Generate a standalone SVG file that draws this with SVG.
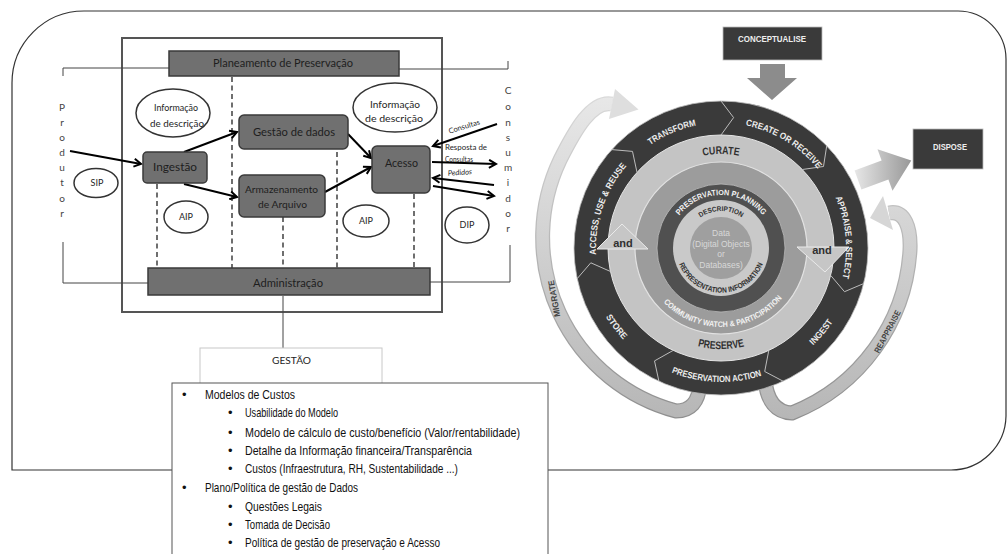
<svg xmlns="http://www.w3.org/2000/svg" width="1008" height="554" viewBox="0 0 1008 554">
<style>
.lbl{font-family:Lato,"Open Sans","Liberation Sans",sans-serif;fill:#1e1e1e}
.box{fill:#707070;stroke:#3a3a3a;stroke-width:1.5}
.ell{fill:#fff;stroke:#333;stroke-width:1.5}
.arr{stroke:#000;stroke-width:2;fill:none;marker-end:url(#ah)}
.dash{stroke:#222;stroke-width:1.3;stroke-dasharray:5 3.5;fill:none}
.thin{stroke:#444;stroke-width:1;fill:none}
.ring{font-family:"Liberation Sans",Arial,sans-serif;font-weight:bold}
.wl{fill:#ececec;font-size:9px}
.dk{fill:#303030}
.bl{font-family:"Liberation Sans",Arial,sans-serif;font-size:13px;fill:#111}
.vl{font-family:Lato,"Liberation Sans",sans-serif;font-size:10px;fill:#444;text-anchor:middle}
</style>
<defs>
<marker id="ah" viewBox="0 0 10 10" refX="8" refY="5" markerWidth="5" markerHeight="5" orient="auto" markerUnits="strokeWidth"><path d="M1,1 L8,5 L1,9" fill="none" stroke="#000" stroke-width="2"/></marker>
<linearGradient id="gb" x1="0" y1="95" x2="0" y2="420" gradientUnits="userSpaceOnUse"><stop offset="0" stop-color="#e8e8e8"/><stop offset="1" stop-color="#b6b6b6"/></linearGradient>
<linearGradient id="gbo" x1="0" y1="95" x2="0" y2="420" gradientUnits="userSpaceOnUse"><stop offset="0" stop-color="#dadada"/><stop offset="1" stop-color="#8e8e8e"/></linearGradient>
<linearGradient id="gd" x1="855" y1="0" x2="912" y2="0" gradientUnits="userSpaceOnUse"><stop offset="0" stop-color="#e6e6e6"/><stop offset="1" stop-color="#979797"/></linearGradient>
<path id="p_tr" d="M 621.2 172.8 A 125 125 0 0 1 736.2 123.9"/>
<path id="p_cr" d="M 712.3 123.3 A 125 125 0 0 1 835.2 197.2"/>
<path id="p_as" d="M 816.8 167.7 A 125 125 0 0 1 829.3 310.5"/>
<path id="p_au" d="M 600.8 282.5 A 125 125 0 0 1 647.5 146.9"/>
<path id="p_in" d="M 777.6 369.4 A 134 134 0 0 0 850.4 282.7"/>
<path id="p_pa" d="M 640.4 355.0 A 134 134 0 0 0 794.0 360.4"/>
<path id="p_st" d="M 589.9 275.9 A 134 134 0 0 0 658.1 366.3"/>
<path id="p_cu" d="M 674.0 166.6 A 94 94 0 0 1 768.0 166.6"/>
<path id="p_pr" d="M 670.5 335.5 A 101 101 0 0 0 771.5 335.5"/>
<path id="p_pp" d="M 671.2 229.9 A 53 53 0 0 1 770.8 229.9"/>
<path id="p_de" d="M 689 229.5 A 37 37 0 0 1 753 229.5"/>
<path id="p_ri" d="M 676.2 251.9 A 45 45 0 0 0 765.8 251.9"/>
<path id="p_cw" d="M 654.0 289.9 A 79 79 0 0 0 790.7 285.1"/>
</defs>

<rect width="1008" height="554" fill="#fff"/>

<g id="outer-frame">
<path d="M12 470 L12 83 A72 72 0 0 1 84 11 L958 11 A48 48 0 0 1 1006 59 L1006 416 A55 55 0 0 1 951 470 Z" fill="none" stroke="#333" stroke-width="1.2"/>
</g>

<g id="oais-frame"><rect x="122" y="38" width="320" height="274" fill="none" stroke="#555" stroke-width="2"/></g>

<g id="connectors">
<polyline class="thin" points="63,76 63,68 169,68"/>
<polyline class="thin" points="63,242 63,283 148,283"/>
<polyline class="thin" points="399,69 508,69 508,61"/>
<polyline class="thin" points="510,245 510,282 430,282"/>
<line class="thin" x1="283" y1="296" x2="283" y2="348"/>
<line class="dash" x1="232" y1="77" x2="232" y2="268"/>
<line class="dash" x1="157" y1="184" x2="157" y2="268"/>
<line class="dash" x1="283" y1="217" x2="283" y2="268"/>
<line class="dash" x1="337" y1="152" x2="337" y2="268"/>
<line class="dash" x1="414" y1="194" x2="414" y2="268"/>
<line class="arr" x1="70" y1="151" x2="141" y2="164"/>
<line class="arr" x1="184" y1="152" x2="237" y2="132"/>
<line class="arr" x1="184" y1="184" x2="237" y2="197"/>
<line class="arr" x1="348" y1="134" x2="371" y2="158"/>
<line class="arr" x1="325" y1="192" x2="371" y2="167"/>
<line class="arr" x1="497" y1="124" x2="433" y2="146"/>
<line class="arr" x1="432" y1="162" x2="496" y2="164"/>
<line class="arr" x1="494" y1="185" x2="433" y2="178"/>
<line class="arr" x1="433" y1="186" x2="494" y2="196"/>
<text class="lbl" font-size="7.5" text-anchor="middle" transform="translate(465,129) rotate(-17)">Consultas</text>
<text class="lbl" font-size="7" x="466" y="150" text-anchor="middle" textLength="42" lengthAdjust="spacingAndGlyphs">Resposta de</text>
<text class="lbl" font-size="7" x="459" y="162" text-anchor="middle" textLength="28" lengthAdjust="spacingAndGlyphs">Consultas</text>
<text class="lbl" font-size="7.5" font-style="italic" text-anchor="middle" transform="translate(460,175) rotate(-4)">Pedidos</text>
</g>

<g id="planeamento"><rect class="box" x="169" y="51" width="230" height="25"/><text class="lbl" font-size="11" x="283" y="67" text-anchor="middle" textLength="140" lengthAdjust="spacingAndGlyphs">Planeamento de Preservação</text></g>
<g id="administracao"><rect class="box" x="148" y="268" width="282" height="27"/><text class="lbl" font-size="11" x="288" y="287" text-anchor="middle" textLength="70" lengthAdjust="spacingAndGlyphs">Administração</text></g>
<g id="ingestao"><rect class="box" x="143" y="152" width="64" height="31" rx="4"/><text class="lbl" font-size="11" x="175" y="171" text-anchor="middle" textLength="44" lengthAdjust="spacingAndGlyphs">Ingestão</text></g>
<g id="gestao-dados"><rect class="box" x="239" y="115" width="109" height="34" rx="5"/><text class="lbl" font-size="11" x="294" y="136" text-anchor="middle" textLength="82" lengthAdjust="spacingAndGlyphs">Gestão de dados</text></g>
<g id="armazenamento"><rect class="box" x="239" y="175" width="86" height="42" rx="5"/><text class="lbl" font-size="10" x="281.5" y="193" text-anchor="middle" textLength="73" lengthAdjust="spacingAndGlyphs">Armazenamento</text><text class="lbl" font-size="10" x="282.5" y="208" text-anchor="middle" textLength="49" lengthAdjust="spacingAndGlyphs">de Arquivo</text></g>
<g id="acesso"><rect class="box" x="372" y="146" width="58" height="47" rx="5"/><text class="lbl" font-size="11" x="401.5" y="167" text-anchor="middle" textLength="33" lengthAdjust="spacingAndGlyphs">Acesso</text></g>
<g id="info-desc-1"><ellipse class="ell" cx="173" cy="113" rx="37" ry="24"/><text class="lbl" font-size="9.5" x="176" y="111" text-anchor="middle" textLength="44" lengthAdjust="spacingAndGlyphs">Informação</text><text class="lbl" font-size="9.5" x="177" y="127" text-anchor="middle" textLength="54" lengthAdjust="spacingAndGlyphs">de descrição</text></g>
<g id="info-desc-2"><ellipse class="ell" cx="395" cy="107.5" rx="42" ry="24.5"/><text class="lbl" font-size="9.5" x="395" y="108" text-anchor="middle" textLength="50" lengthAdjust="spacingAndGlyphs">Informação</text><text class="lbl" font-size="9.5" x="394" y="122" text-anchor="middle" textLength="58" lengthAdjust="spacingAndGlyphs">de descrição</text></g>
<g id="sip"><ellipse class="ell" cx="96" cy="183" rx="22" ry="14.5"/><text class="lbl" font-size="9" x="97" y="186" text-anchor="middle">SIP</text></g>
<g id="aip-1"><ellipse class="ell" cx="186" cy="217" rx="22" ry="16"/><text class="lbl" font-size="9" x="186" y="220" text-anchor="middle">AIP</text></g>
<g id="aip-2"><ellipse class="ell" cx="366" cy="221" rx="23" ry="16"/><text class="lbl" font-size="9" x="366" y="224" text-anchor="middle">AIP</text></g>
<g id="dip"><ellipse class="ell" cx="467" cy="225" rx="22" ry="18"/><text class="lbl" font-size="9" x="467" y="228" text-anchor="middle">DIP</text></g>
<g id="produtor">
<text class="vl" x="62" y="110.5">P</text><text class="vl" x="62" y="125.5">r</text><text class="vl" x="62" y="140.5">o</text><text class="vl" x="62" y="155.5">d</text><text class="vl" x="62" y="170.5">u</text><text class="vl" x="62" y="186">t</text><text class="vl" x="62" y="201.5">o</text><text class="vl" x="62" y="216.5">r</text>
</g>
<g id="consumidor">
<text class="vl" x="508" y="93.5">C</text><text class="vl" x="508" y="109.5">o</text><text class="vl" x="508" y="125.5">n</text><text class="vl" x="508" y="140.5">s</text><text class="vl" x="508" y="155.5">u</text><text class="vl" x="508" y="170.5">m</text><text class="vl" x="508" y="185.5">i</text><text class="vl" x="508" y="201.5">d</text><text class="vl" x="508" y="216.5">o</text><text class="vl" x="508" y="231.5">r</text>
</g>
<g id="gestao"><rect x="200" y="348" width="182" height="60" fill="#fff" stroke="#c8c8c8" stroke-width="1"/><text class="lbl" font-size="10" x="291.5" y="364" text-anchor="middle" textLength="39" lengthAdjust="spacingAndGlyphs" fill="#333">GESTÃO</text></g>

<g id="lista">
<rect x="172" y="383" width="376" height="190" fill="#fff" stroke="#555" stroke-width="1"/>
<text class="bl" x="182" y="399">•</text><text class="bl" x="205" y="399" textLength="90" lengthAdjust="spacingAndGlyphs">Modelos de Custos</text>
<text class="bl" x="228" y="417">•</text><text class="bl" x="245" y="417" textLength="93" lengthAdjust="spacingAndGlyphs">Usabilidade do Modelo</text>
<text class="bl" x="228" y="437">•</text><text class="bl" x="245" y="437" textLength="275" lengthAdjust="spacingAndGlyphs">Modelo de cálculo de custo/benefício (Valor/rentabilidade)</text>
<text class="bl" x="228" y="455">•</text><text class="bl" x="245" y="455" textLength="227" lengthAdjust="spacingAndGlyphs">Detalhe da Informação financeira/Transparência</text>
<text class="bl" x="228" y="473">•</text><text class="bl" x="245" y="473" textLength="213" lengthAdjust="spacingAndGlyphs">Custos (Infraestrutura, RH, Sustentabilidade ...)</text>
<text class="bl" x="182" y="492">•</text><text class="bl" x="205" y="492" textLength="153" lengthAdjust="spacingAndGlyphs">Plano/Política de gestão de Dados</text>
<text class="bl" x="228" y="511">•</text><text class="bl" x="245" y="511" textLength="77" lengthAdjust="spacingAndGlyphs">Questões Legais</text>
<text class="bl" x="228" y="529">•</text><text class="bl" x="245" y="529" textLength="85" lengthAdjust="spacingAndGlyphs">Tomada de Decisão</text>
<text class="bl" x="228" y="547">•</text><text class="bl" x="245" y="547" textLength="195" lengthAdjust="spacingAndGlyphs">Política de gestão de preservação e Acesso</text>
</g>

<g id="migrate">
<path d="M 700 384 Q 698 411 676 411 A 180 180 0 0 1 560 160 C 575 130 592 100 612 104" fill="none" stroke="url(#gbo)" stroke-width="15"/>
<path d="M 700 384 Q 698 411 676 411 A 180 180 0 0 1 560 160 C 575 130 592 100 612 104" fill="none" stroke="url(#gb)" stroke-width="12.5"/>
<polygon points="615,89 638.5,109.5 609,119" fill="#dedede"/>
<text class="ring" font-size="8.5" fill="#444" text-anchor="middle" transform="translate(557,298) rotate(-100)" textLength="37" lengthAdjust="spacingAndGlyphs">MIGRATE</text>
</g>
<g id="reappraise">
<path d="M 765 380 Q 768 412 792 413 A 187 187 0 0 0 910 250 C 911 228 905 210 889 213" fill="none" stroke="url(#gbo)" stroke-width="15"/>
<path d="M 765 380 Q 768 412 792 413 A 187 187 0 0 0 910 250 C 911 228 905 210 889 213" fill="none" stroke="url(#gb)" stroke-width="12.5"/>
<polygon points="883,196 870,218 893,230" fill="#d6d6d6"/>
<text class="ring" font-size="8.5" fill="#444" text-anchor="middle" transform="translate(890,333) rotate(-62)" textLength="47" lengthAdjust="spacingAndGlyphs">REAPPRAISE</text>
</g>

<g id="conceptualise">
<rect x="723" y="27" width="99" height="33" fill="#3a3a3a" stroke="#bbb" stroke-width="0.8"/>
<text class="ring" font-size="8.5" fill="#eee" x="772" y="42" text-anchor="middle" textLength="68" lengthAdjust="spacingAndGlyphs">CONCEPTUALISE</text>
<polygon points="760,64 785,64 785,78 797,78 772,100 747,78 760,78" fill="#8c8c8c"/>
</g>
<g id="dispose">
<rect x="913" y="129" width="70" height="40" fill="#3a3a3a" stroke="#bbb" stroke-width="0.8"/>
<text class="ring" font-size="8.5" fill="#eee" x="950" y="150" text-anchor="middle" textLength="34" lengthAdjust="spacingAndGlyphs">DISPOSE</text>
<polygon points="861.4,189.4 854.6,170.6 881.6,160.6 877.5,149.3 911.3,160.5 892.5,190.7 888.4,179.4" fill="url(#gd)"/>
</g>

<g id="rings">
<circle cx="721" cy="248" r="147" fill="#3a3a3a" stroke="#bdbdbd" stroke-width="0.8"/>
<circle cx="721" cy="248" r="113" fill="#c4c4c4" stroke="#e4e4e4" stroke-width="1"/>
<circle cx="721" cy="248" r="86" fill="#9c9c9c" stroke="#e2e2e2" stroke-width="1.2"/>
<circle cx="721" cy="248" r="64" fill="#505050" stroke="#bdbdbd" stroke-width="0.8"/>
<circle cx="721" cy="248" r="48" fill="#c9c9c9"/>
<circle cx="721" cy="248" r="31" fill="#9f9f9f"/>
</g>
<g id="chevrons" fill="none" stroke="#bcbcbc" stroke-width="1">
<polyline points="721,101 733.6,117.6 721,135"/>
<polyline points="826.7,145.9 823.5,166.5 802.3,169.5"/>
<polyline points="863.6,283.6 844.5,291.7 830.6,275.3"/>
<polyline points="783.1,381.2 764.7,371.5 768.8,350.4"/>
<polyline points="658.9,381.2 654.5,360.9 673.2,350.4"/>
<polyline points="577.2,278.6 590.8,262.8 610.5,271.5"/>
<polyline points="611.8,149.6 632.5,151.4 637,172.4"/>
</g>
<g id="and-arrows">
<polygon points="797,247 849,247 825,272" fill="#c6c6c6" stroke="#eaeaea" stroke-width="1"/>
<polygon points="597,249 648,249 622,224" fill="#c6c6c6" stroke="#eaeaea" stroke-width="1"/>
<text class="ring dk" font-size="11" x="822" y="254" text-anchor="middle">and</text>
<text class="ring dk" font-size="11" x="623" y="247" text-anchor="middle">and</text>
</g>
<g id="ring-labels">
<text class="ring wl"><textPath href="#p_tr" startOffset="50%" text-anchor="middle" textLength="50" lengthAdjust="spacingAndGlyphs">TRANSFORM</textPath></text>
<text class="ring wl"><textPath href="#p_cr" startOffset="50%" text-anchor="middle" textLength="86" lengthAdjust="spacingAndGlyphs">CREATE OR RECEIVE</textPath></text>
<text class="ring wl"><textPath href="#p_as" startOffset="50%" text-anchor="middle" textLength="82" lengthAdjust="spacingAndGlyphs">APPRAISE &amp; SELECT</textPath></text>
<text class="ring wl"><textPath href="#p_au" startOffset="50%" text-anchor="middle" textLength="96" lengthAdjust="spacingAndGlyphs">ACCESS, USE &amp; REUSE</textPath></text>
<text class="ring wl"><textPath href="#p_in" startOffset="50%" text-anchor="middle" textLength="31" lengthAdjust="spacingAndGlyphs">INGEST</textPath></text>
<text class="ring wl"><textPath href="#p_pa" startOffset="50%" text-anchor="middle" textLength="92" lengthAdjust="spacingAndGlyphs">PRESERVATION ACTION</textPath></text>
<text class="ring wl"><textPath href="#p_st" startOffset="50%" text-anchor="middle" textLength="29" lengthAdjust="spacingAndGlyphs">STORE</textPath></text>
<text class="ring dk" font-size="11"><textPath href="#p_cu" startOffset="50%" text-anchor="middle" textLength="36" lengthAdjust="spacingAndGlyphs">CURATE</textPath></text>
<text class="ring dk" font-size="11"><textPath href="#p_pr" startOffset="50%" text-anchor="middle" textLength="47" lengthAdjust="spacingAndGlyphs">PRESERVE</textPath></text>
<text class="ring" font-size="8" fill="#f2f2f2"><textPath href="#p_pp" startOffset="50%" text-anchor="middle" textLength="96" lengthAdjust="spacingAndGlyphs">PRESERVATION PLANNING</textPath></text>
<text class="ring dk" font-size="7"><textPath href="#p_de" startOffset="50%" text-anchor="middle" textLength="44" lengthAdjust="spacingAndGlyphs">DESCRIPTION</textPath></text>
<text class="ring dk" font-size="7.5"><textPath href="#p_ri" startOffset="50%" text-anchor="middle" textLength="108" lengthAdjust="spacingAndGlyphs">REPRESENTATION INFORMATION</textPath></text>
<text class="ring" font-size="8" fill="#f2f2f2"><textPath href="#p_cw" startOffset="50%" text-anchor="middle" textLength="134" lengthAdjust="spacingAndGlyphs">COMMUNITY WATCH &amp; PARTICIPATION</textPath></text>
</g>
<g id="data" font-family="Liberation Sans, Arial, sans-serif" font-size="8.5" fill="#d8d8d8" text-anchor="middle">
<text x="721" y="236">Data</text>
<text x="721" y="247">(Digital Objects</text>
<text x="721" y="257">or</text>
<text x="721" y="268">Databases)</text>
</g>
</svg>
